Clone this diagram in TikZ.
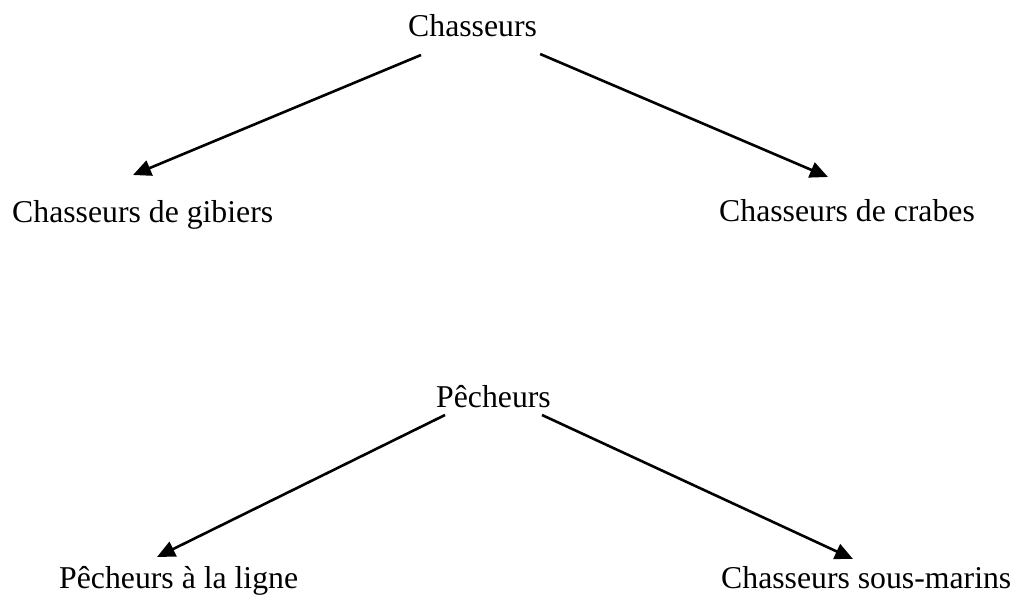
\documentclass[tikz,border=0pt]{standalone}
\usepackage{fontspec}
\setmainfont{Liberation Serif}
\usetikzlibrary{arrows.meta}
\begin{document}
\begin{tikzpicture}[x=1pt,y=-1pt,
  label/.style={inner sep=0pt,font=\fontsize{31.75}{38}\selectfont},
  arr/.style={line width=2.6pt,-{Triangle[length=18pt,width=16pt]}}]
\useasboundingbox (0,0) rectangle (1013,596);
% hunters
\node[label,anchor=base west] (ch) at (408,37) {Chasseurs};
\node[label,anchor=base west] (cg) at (12,223) {Chasseurs de gibiers};
\node[label,anchor=base west] (cc) at (719,222) {Chasseurs de crabes};
% fishers
\node[label,anchor=base west] (pe) at (436,407) {Pêcheurs};
\node[label,anchor=base west] (pl) at (59,588) {Pêcheurs à la ligne};
\node[label,anchor=base west] (cs) at (721,588) {Chasseurs sous-marins};
% branches
\draw[arr] ([shift={(13,18)}]ch.base west) -- ([shift={(121,-48)}]cg.base west);
\draw[arr] ([shift={(3,17)}]ch.base east) -- ([shift={(109,-45)}]cc.base west);
\draw[arr] ([shift={(9,8)}]pe.base west) -- ([shift={(98,-31)}]pl.base west);
\draw[arr] ([shift={(-9,8)}]pe.base east) -- ([shift={(132,-29)}]cs.base west);
\end{tikzpicture}
\end{document}
